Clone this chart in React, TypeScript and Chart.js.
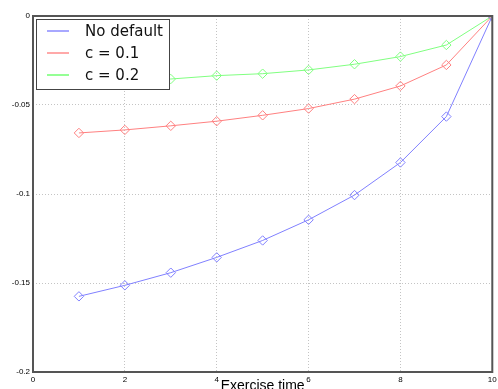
import React, { useEffect, useRef } from "react";
import { Chart, registerables } from "chart.js";

Chart.register(...registerables);

const exerciseTimes = [1, 2, 3, 4, 5, 6, 7, 8, 9, 10];
const noDefault = [-0.1575, -0.1513, -0.1442, -0.1356, -0.1261, -0.1145, -0.1006, -0.0823, -0.0565, 0];
const c01 = [-0.0657, -0.064, -0.0617, -0.0591, -0.0558, -0.052, -0.0467, -0.0393, -0.0275, 0];
const c02 = [-0.0365, -0.036, -0.0354, -0.0335, -0.0324, -0.0303, -0.0271, -0.0228, -0.0163, 0];
const seriesLabels = ["No default", "c = 0.1", "c = 0.2"];
const seriesColors = ["#8080ff", "#ff8080", "#80ff80"];
const legendColors = ["#6f6fff", "#ff7070", "#4dff4d"];

const frameLegendPlugin = {
  id: "frameLegend",
  afterDatasetsDraw(chart: any) {
    const { ctx, chartArea: a } = chart;
    ctx.save();
    ctx.strokeStyle = "#555";
    ctx.lineWidth = 2;
    ctx.strokeRect(a.left, a.top, a.right - a.left, a.bottom - a.top);
    const lx = a.left + 3.5;
    const ly = a.top + 3.5;
    ctx.fillStyle = "#fff";
    ctx.fillRect(lx, ly, 133, 70);
    ctx.lineWidth = 1;
    ctx.strokeStyle = "#444";
    ctx.strokeRect(lx, ly, 133, 70);
    ctx.font = '15px "DejaVu Sans"';
    ctx.textBaseline = "middle";
    ctx.textAlign = "left";
    chart.data.datasets.forEach((ds: any, i: number) => {
      const y = a.top + 15 + i * 22;
      ctx.strokeStyle = legendColors[i];
      ctx.lineWidth = 1.2;
      ctx.beginPath();
      ctx.moveTo(a.left + 14, y);
      ctx.lineTo(a.left + 36, y);
      ctx.stroke();
      ctx.fillStyle = "#111";
      ctx.fillText(ds.label, a.left + 52, y + 1);
    });
    ctx.restore();
  },
};

export default function App() {
  const ref = useRef<HTMLCanvasElement>(null);
  useEffect(() => {
    if (!ref.current) return;
    const mk = (data: number[], i: number) => ({
      label: seriesLabels[i],
      data: exerciseTimes.map((x, k) => ({ x, y: data[k] })),
      borderColor: seriesColors[i],
      backgroundColor: "rgba(0,0,0,0)",
      borderWidth: 1,
      pointStyle: "rectRot",
      pointRadius: 4.7,
      pointBorderWidth: 1,
      pointBorderColor: seriesColors[i],
      pointBackgroundColor: "rgba(0,0,0,0)",
      tension: 0,
    });
    const tickFont = { family: '"Liberation Sans", Arial, sans-serif', size: 8 };
    const chart = new Chart(ref.current, {
      type: "line",
      data: { datasets: [mk(noDefault, 0), mk(c01, 1), mk(c02, 2)] as any },
      options: {
        animation: false,
        responsive: false,
        events: [],
        layout: { padding: { top: 16, right: 3, left: 0, bottom: 0 } },
        plugins: { legend: { display: false }, tooltip: { enabled: false } },
        scales: {
          x: {
            type: "linear",
            min: 0,
            max: 10,
            ticks: { stepSize: 2, color: "#000", font: tickFont, padding: 3, maxRotation: 0 },
            grid: {
              drawTicks: false,
              color: (c: any) => (c.tick && (c.tick.value === 0 || c.tick.value === 10) ? "rgba(0,0,0,0)" : "#c4c4c4"),
              lineWidth: 1,
            },
            border: { display: false, dash: [1, 2] },
            title: {
              display: true,
              text: "Exercise time",
              color: "#000",
              font: { family: '"Liberation Sans", Arial, sans-serif', size: 14 },
              padding: { top: 0, bottom: 0 },
            },
            afterFit: (s: any) => {
              s.height = 23;
              s.paddingLeft = 0;
              s.paddingRight = 0;
            },
          },
          y: {
            type: "linear",
            min: -0.2,
            max: 0,
            ticks: {
              stepSize: 0.05,
              color: "#000",
              font: tickFont,
              padding: 3,
              callback: (v: any) => String(Math.round(Number(v) * 100) / 100),
            },
            grid: {
              drawTicks: false,
              color: (c: any) =>
                c.tick && (Math.abs(c.tick.value) < 1e-9 || Math.abs(c.tick.value + 0.2) < 1e-9) ? "rgba(0,0,0,0)" : "#c4c4c4",
              lineWidth: 1,
            },
            border: { display: false, dash: [1, 2] },
            afterFit: (s: any) => {
              s.width = 33;
              s.paddingTop = 0;
              s.paddingBottom = 0;
            },
          },
        },
      } as any,
      plugins: [frameLegendPlugin],
    });
    return () => chart.destroy();
  }, []);
  return (
    <div style={{ position: "absolute", left: 0, top: 0, width: 498, height: 389, overflow: "hidden", background: "#fff" }}>
      <canvas ref={ref} width={498} height={395} style={{ display: "block", width: 498, height: 395 }} />
    </div>
  );
}
